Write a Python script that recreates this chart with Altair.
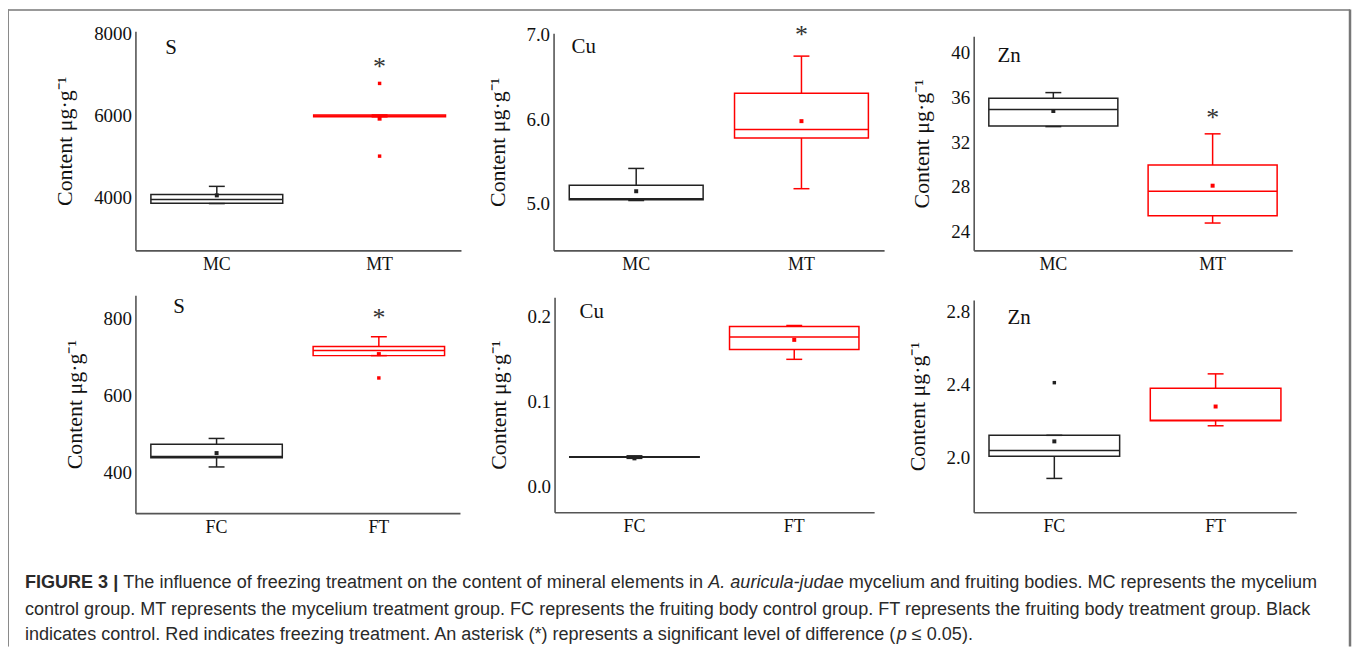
import altair as alt
import pandas as pd

# ---------------- data ----------------
top_groups = ["MC", "MT"]
bot_groups = ["FC", "FT"]
roles = ["control", "treatment"]
role_colors = ["#222222", "#ff0000"]

elements = ["S", "Cu", "Zn", "S", "Cu", "Zn"]

# per panel: [control group, treatment group]
p_lo = [[3860, 5975], [5.04, 5.18], [33.40, 24.75], [414, 703], [0.0330, 0.150], [1.888, 2.175]]
p_q1 = [[3866, 5975], [5.05, 5.78], [33.45, 25.40], [438, 703], [0.0343, 0.1616], [2.009, 2.203]]
p_med = [[3962, 5995], [5.06, 5.88], [34.94, 27.60], [441, 716], [0.0346, 0.1765], [2.040, 2.205]]
p_q3 = [[4082, 6020], [5.22, 6.31], [35.95, 29.95], [473, 727], [0.0350, 0.1887], [2.123, 2.380]]
p_hi = [[4280, 6020], [5.42, 6.75], [36.45, 32.75], [488, 752], [0.0360, 0.1900], [2.123, 2.458]]
p_mean = [[4060, 5930], [5.15, 5.98], [34.80, 28.10], [450, 707], [0.0330, 0.1730], [2.090, 2.280]]

outlier_panel = [0, 0, 3, 5]
outlier_group = ["MT", "MT", "FT", "FC"]
outlier_value = [6790, 5017, 645, 2.41]

star_panel = [0, 1, 2, 3]
star_group = ["MT", "MT", "MT", "FT"]
star_value = [7200, 7.0, 34.2, 800]

label_value = [7650, 6.86, 39.7, 830, 0.206, 2.76]

y_domains = [[2720, 8060], [4.45, 7.02], [22.3, 41.5], [294, 860], [-0.0306, 0.2235], [1.704, 2.86]]
y_ticks = [[4000, 6000, 8000], [5.0, 6.0, 7.0], [24, 28, 32, 36, 40],
           [400, 600, 800], [0.0, 0.1, 0.2], [2.0, 2.4, 2.8]]
y_formats = ["d", ".1f", "d", "d", ".1f", ".1f"]

caption_lines = [
    [("FIGURE 3 |", "bold", "normal"),
     (" The influence of freezing treatment on the content of mineral elements in ", "normal", "normal"),
     ("A. auricula-judae", "normal", "italic"),
     (" mycelium and fruiting bodies. MC represents the mycelium", "normal", "normal")],
    [("control group. MT represents the mycelium treatment group. FC represents the fruiting body "
      "control group. FT represents the fruiting body treatment group. Black", "normal", "normal")],
    [("indicates control. Red indicates freezing treatment. An asterisk (*) represents a significant "
      "level of difference (", "normal", "normal"),
     ("p", "normal", "italic"),
     (" \u2264 0.05).", "normal", "normal")],
]

# ---------------- layout ----------------
W, H = 1350, 640
x_ranges = [[128, 455], [548, 880], [970, 1290], [128, 454], [549, 870], [970, 1294]]
y_ranges = [[242, 22], [242, 24], [242, 27], [506, 287], [505, 289], [505, 292]]
label_x = [158, 566, 994, 166, 574, 1004]
SERIF = "Liberation Serif"
SANS = "Liberation Sans"

stroke_enc = alt.Stroke("role:N", scale=alt.Scale(domain=roles, range=role_colors), legend=None)
color_enc = alt.Color("role:N", scale=alt.Scale(domain=roles, range=role_colors), legend=None)


def panel(i):
    groups = top_groups if i < 3 else bot_groups
    df = pd.DataFrame({
        "grp": groups, "role": roles,
        "lo": p_lo[i], "q1": p_q1[i], "med": p_med[i], "q3": p_q3[i],
        "hi": p_hi[i], "mean": p_mean[i],
    })
    xs = alt.Scale(domain=groups, range=x_ranges[i], paddingInner=0, paddingOuter=0)
    ys = alt.Scale(domain=y_domains[i], range=y_ranges[i], nice=False, zero=False)
    xaxis = alt.Axis(orient="bottom", offset=-(H - y_ranges[i][0]), title=None, labelAngle=0,
                     ticks=False, labelFont=SERIF, labelFontSize=18, labelColor="#111",
                     labelPadding=5, domainColor="#555", domainWidth=1.6, grid=False)
    yaxis = alt.Axis(orient="left", offset=-x_ranges[i][0], values=y_ticks[i], format=y_formats[i],
                     title="Content \u03bcg\u00b7g\u207b\u00b9", grid=False, ticks=False,
                     labelFont=SERIF, labelFontSize=19, labelColor="#111", labelPadding=4,
                     titleFont=SERIF, titleFontSize=22, titleFontWeight="normal",
                     titleColor="#111", titlePadding=17, domainColor="#555", domainWidth=1.6)

    def X():
        return alt.X("grp:N", scale=xs, sort=groups, axis=xaxis)

    def Y(f):
        return alt.Y(f"{f}:Q", scale=ys, axis=yaxis)

    base = alt.Chart(df)
    step = (x_ranges[i][1] - x_ranges[i][0]) / 2
    layers = [
        base.mark_bar(width=alt.RelativeBandSize(0.81), fill="white", strokeWidth=1.5).encode(
            x=X(), y=Y("q1"), y2=alt.Y2("q3"), stroke=stroke_enc),
        base.mark_rule(strokeWidth=1.5).encode(x=X(), y=Y("lo"), y2=alt.Y2("q1"), stroke=stroke_enc),
        base.mark_rule(strokeWidth=1.5).encode(x=X(), y=Y("q3"), y2=alt.Y2("hi"), stroke=stroke_enc),
        base.mark_tick(size=0.81 * step, thickness=1.5, opacity=1).encode(
            x=X(), y=Y("med"), color=color_enc),
        base.mark_tick(size=16, thickness=1.5, opacity=1).encode(x=X(), y=Y("lo"), color=color_enc),
        base.mark_tick(size=16, thickness=1.5, opacity=1).encode(x=X(), y=Y("hi"), color=color_enc),
        base.mark_square(size=16, opacity=1).encode(x=X(), y=Y("mean"), color=color_enc),
    ]
    out = [(g, v) for p, g, v in zip(outlier_panel, outlier_group, outlier_value) if p == i]
    if out:
        odf = pd.DataFrame({"grp": [g for g, _ in out], "val": [v for _, v in out],
                            "role": [roles[groups.index(g)] for g, _ in out]})
        layers.append(alt.Chart(odf).mark_square(size=12, opacity=1).encode(
            x=X(), y=Y("val"), color=color_enc))
    st = [(g, v) for p, g, v in zip(star_panel, star_group, star_value) if p == i]
    if st:
        sdf = pd.DataFrame({"grp": [g for g, _ in st], "val": [v for _, v in st], "t": ["*"] * len(st)})
        layers.append(alt.Chart(sdf).mark_text(font=SERIF, fontSize=26, color="#333",
                                               baseline="middle", dy=0).encode(
            x=X(), y=Y("val"), text="t:N"))
    ldf = pd.DataFrame({"t": [elements[i]], "val": [label_value[i]]})
    layers.append(alt.Chart(ldf).mark_text(font=SERIF, fontSize=21, color="#111", align="left",
                                           baseline="middle").encode(
        x=alt.value(label_x[i]), y=Y("val"), text="t:N"))
    return alt.layer(*layers)


# ---------------- caption ----------------
ARIAL = {' ': 278, '(': 333, ')': 333, '*': 389, ',': 278, '-': 333, '.': 278, ':': 278,
         '|': 260, '\u2264': 549}
for d in "0123456789":
    ARIAL[d] = 556
ARIAL.update(dict(zip("ABCDEFGHIJKLMNOPQRSTUVWXYZ",
                      [667, 667, 722, 722, 667, 611, 778, 722, 278, 500, 667, 556, 833, 722, 778,
                       667, 778, 722, 667, 611, 722, 667, 944, 667, 667, 611])))
ARIAL.update(dict(zip("abcdefghijklmnopqrstuvwxyz",
                      [556, 556, 500, 556, 556, 278, 556, 556, 222, 222, 500, 222, 833, 556, 556,
                       556, 556, 333, 500, 278, 556, 500, 722, 500, 500, 500])))
ARIAL_BOLD = dict(ARIAL)
ARIAL_BOLD.update({'|': 280, 'R': 722, 'U': 722, 'G': 778})


def text_units(s, bold=False):
    tbl = ARIAL_BOLD if bold else ARIAL
    return sum(tbl.get(c, 556) for c in s)


cap_x0 = 17
cap_y = [581, 608, 633]
cap_size = 1292 * 1000 / text_units(caption_lines[1][0][0])

caption_layers = []
one = pd.DataFrame({"a": [0]})
for li, segs in enumerate(caption_lines):
    x = cap_x0
    for txt, weight, style in segs:
        bold = weight == "bold"
        lead = len(txt) - len(txt.lstrip(" "))
        x += text_units(" " * lead) / 1000 * cap_size
        body = txt.strip(" ")
        caption_layers.append(
            alt.Chart(pd.DataFrame({"t": [body]})).mark_text(
                font=SANS, fontSize=cap_size, fontWeight=weight, fontStyle=style,
                color="#2a2a2a", align="left", baseline="alphabetic").encode(
                x=alt.value(x), y=alt.value(cap_y[li]), text="t:N"))
        x += text_units(txt.lstrip(" "), bold) / 1000 * cap_size

# ---------------- frame ----------------
frame = [
    alt.Chart(one).mark_rule(color="#777", strokeWidth=1.5).encode(
        x=alt.value(0), x2=alt.value(W - 2), y=alt.value(0.5)),
    alt.Chart(one).mark_rule(color="#888", strokeWidth=1).encode(
        x=alt.value(0.5), y=alt.value(0), y2=alt.value(H)),
    alt.Chart(one).mark_rule(color="#777", strokeWidth=2.5).encode(
        x=alt.value(W - 2), y=alt.value(0), y2=alt.value(H)),
]

chart = alt.layer(*frame, *[panel(i) for i in range(6)], *caption_layers).resolve_scale(
    x="independent", y="independent").resolve_axis(
    x="independent", y="independent").properties(
    width=W, height=H, autosize=alt.AutoSizeParams(type="none"), padding=0,
    background="white").configure_view(stroke=None)

chart.save("out.html", embed_options={"renderer": "svg", "actions": False})
